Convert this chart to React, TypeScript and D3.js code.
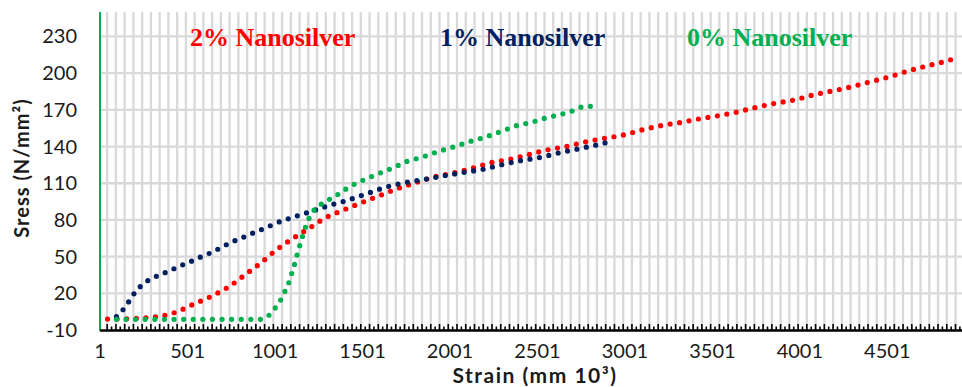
import * as d3 from "d3";

// 2% Nanosilver
const strain2 = [43, 100, 214, 329, 436, 537, 637, 737, 828, 920, 1007, 1099, 1194, 1289, 1390, 1493, 1596, 1699, 1802, 1909, 2019, 2128, 2233, 2343, 2448, 2555, 2663, 2774, 2884, 2993, 3098, 3206, 3317, 3425, 3536, 3644, 3753, 3861, 3972, 4079, 4189, 4300, 4408, 4517, 4622, 4730, 4837, 4891];
const stress2 = [-1, -1, -0.4, 0.9, 4.7, 11.3, 17.6, 25.5, 35, 44.9, 55.3, 64.5, 73, 81.7, 88, 94, 99.8, 105.5, 110.4, 115.1, 118.4, 122.2, 126.8, 129.5, 133.3, 137.2, 139.9, 143.8, 146.7, 149.5, 153.6, 157.1, 159.6, 162.6, 165.3, 168.3, 172.1, 175.4, 178.2, 182.3, 185.5, 189, 193.1, 197.2, 201.9, 206, 209.8, 212.3];

// 1% Nanosilver
const strain1 = [94, 134, 168, 199, 239, 287, 338, 388, 437, 489, 540, 590, 641, 691, 740, 792, 843, 893, 944, 994, 1099, 1206, 1310, 1417, 1524, 1629, 1737, 1848, 1958, 2069, 2179, 2290, 2401, 2511, 2620, 2731, 2840, 2895];
const stress1 = [0.9, 7, 13.8, 20.6, 26.6, 31.5, 34.8, 37.8, 41, 44.3, 47.3, 50.6, 53.6, 57.4, 61, 64.3, 67.2, 70.5, 73.3, 76.6, 82, 86.9, 91.8, 96.2, 101.4, 106.6, 110.3, 112.9, 115.9, 118.6, 121.1, 124.9, 128.4, 130.9, 134.7, 138, 141.3, 143.2];

// 0% Nanosilver
const strain0 = [94, 910, 963, 1001, 1034, 1060, 1083, 1100, 1118, 1133, 1150, 1167, 1188, 1215, 1255, 1305, 1354, 1402, 1451, 1500, 1550, 1602, 1653, 1705, 1756, 1809, 1861, 1915, 1968, 2021, 2073, 2126, 2179, 2233, 2284, 2336, 2389, 2442, 2495, 2549, 2604, 2658, 2711, 2764, 2820];
const stress0 = [-1.3, -1.3, 1.7, 7.8, 14.8, 22.5, 30.1, 38.1, 46.5, 54.7, 62.9, 70.8, 79, 86.4, 91.8, 96.2, 100.3, 104.9, 109, 112.3, 115.3, 118.4, 121.3, 124.6, 127.9, 130.1, 132.3, 135, 137.4, 139.7, 142.1, 144.6, 146.7, 149.2, 151.9, 154.6, 157.4, 159, 161, 163.4, 165.3, 167.2, 169.6, 172.7, 172.9];

const seriesNames = ["2% Nanosilver", "1% Nanosilver", "0% Nanosilver"];
const seriesColors = ["#FF0000", "#002060", "#00B050"];

const yTicks = [-10, 20, 50, 80, 110, 140, 170, 200, 230];
const xTickValues = [1, 501, 1001, 1501, 2001, 2501, 3001, 3501, 4001, 4501];
const xTickLabels = ["1", "501", "1001", "1501", "2001", "2501", "3001", "3501", "4001", "4501"];

const W = 962;
const H = 387;
const plot = { left: 100, right: 962, top: 12, bottom: 330 };
const sans = "Lato, 'Open Sans', sans-serif";

export default function App() {
  const x = d3.scaleLinear().domain([0, 4928]).range([plot.left, plot.right]);
  const y = d3.scaleLinear().domain([-10, 250]).range([plot.bottom, plot.top]);

  const series = [
    { xs: strain2, ys: stress2 },
    { xs: strain1, ys: stress1 },
    { xs: strain0, ys: stress0 },
  ];

  const line = d3
    .line<[number, number]>()
    .x((d) => x(d[0]))
    .y((d) => y(d[1]))
    .curve(d3.curveMonotoneX);

  const minorTicks = d3.range(41, 4928, 25);
  const gridX = d3.range(41, 4928, 50);

  const labelX = [190, 440, 687];

  return (
    <svg
      width={W}
      height={H}
      style={{ position: "fixed", left: 0, top: 0, display: "block", background: "#fff" }}
    >
      {/* vertical gridlines */}
      {gridX.map((g) => (
        <line key={"gx" + g} x1={x(g)} x2={x(g)} y1={plot.top} y2={plot.bottom} stroke="#D9D9D9" strokeWidth={2.3} />
      ))}
      {/* horizontal gridlines */}
      {yTicks.slice(1).map((t) => (
        <line key={"gy" + t} x1={plot.left} x2={plot.right} y1={y(t)} y2={y(t)} stroke="#D9D9D9" strokeWidth={2.3} />
      ))}

      {/* y axis line */}
      <line x1={plot.left} x2={plot.left} y1={plot.top} y2={plot.bottom + 1} stroke="#00B050" strokeWidth={2} />

      {/* x axis ticks */}
      {minorTicks.map((t, i) => (
        <line
          key={"t" + t}
          x1={x(t)}
          x2={x(t)}
          y1={plot.bottom}
          y2={plot.bottom - (i % 2 === 0 ? 6 : 3.5)}
          stroke="#000"
          strokeWidth={1.6}
        />
      ))}
      <line x1={plot.left} x2={plot.right} y1={plot.bottom + 0.5} y2={plot.bottom + 0.5} stroke="#000" strokeWidth={2.5} />

      {/* series */}
      {series.map((s, i) => (
        <path
          key={seriesNames[i]}
          d={line(s.xs.map((v, j) => [v, s.ys[j]] as [number, number])) ?? ""}
          fill="none"
          stroke={seriesColors[i]}
          strokeWidth={5.2}
          strokeLinecap="round"
          strokeDasharray="0 9.6"
        />
      ))}

      {/* y tick labels */}
      {yTicks.map((t) => (
        <text
          key={"yl" + t}
          x={77}
          y={y(t)}
          dy="0.35em"
          textAnchor="end"
          fontFamily={sans}
          fontSize={20}
          fill="#1a1a1a"
        >
          {t}
        </text>
      ))}

      {/* x tick labels */}
      {xTickValues.map((t, i) => (
        <text
          key={"xl" + t}
          x={x(t)}
          y={358}
          textAnchor="middle"
          fontFamily={sans}
          fontSize={20}
          fill="#1a1a1a"
        >
          {xTickLabels[i]}
        </text>
      ))}

      {/* axis titles */}
      <text
        transform={`translate(29,${(plot.top + plot.bottom) / 2 - 3}) rotate(-90)`}
        textAnchor="middle"
        fontFamily={sans}
        fontWeight="bold"
        fontSize={20}
        letterSpacing={1}
        fill="#1a1a1a"
      >
        Sress (N/mm²)
      </text>
      <text
        x={535}
        y={382.5}
        textAnchor="middle"
        fontFamily={sans}
        fontWeight="bold"
        fontSize={21}
        letterSpacing={1.5}
        fill="#1a1a1a"
      >
        Strain (mm 10³)
      </text>

      {/* series labels */}
      {seriesNames.map((n, i) => (
        <text
          key={"sl" + n}
          x={labelX[i]}
          y={46}
          fontFamily="'Liberation Serif', 'Times New Roman', serif"
          fontWeight="bold"
          fontSize={26}
          fill={seriesColors[i]}
        >
          {n}
        </text>
      ))}
    </svg>
  );
}
